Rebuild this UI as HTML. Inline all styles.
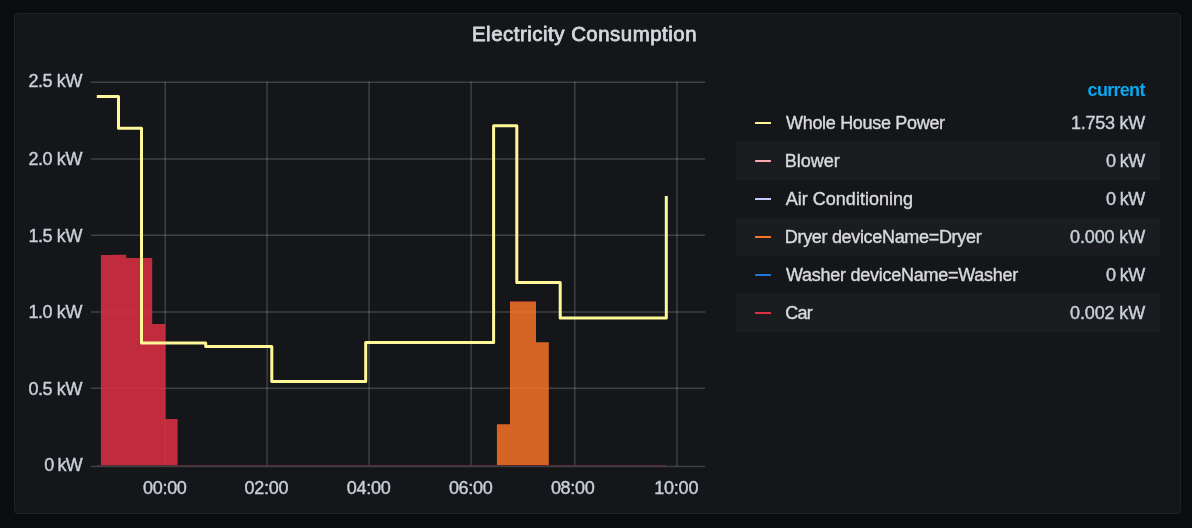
<!DOCTYPE html>
<html>
<head>
<meta charset="utf-8">
<title>Electricity Consumption</title>
<style>
html,body{margin:0;padding:0;}
body{width:1192px;height:528px;background:#0b0c0e;overflow:hidden;position:relative;font-family:"Liberation Sans",sans-serif;color:#c7d0d9;}
.panel{position:absolute;left:14px;top:13px;width:1165px;height:499px;background:#141619;border:1px solid #202226;border-radius:4px;}
.title{position:absolute;left:0.5px;top:22px;width:1168px;text-align:center;font-size:20.4px;font-weight:normal;-webkit-text-stroke:0.8px #d3d7dc;letter-spacing:0.52px;color:#d3d7dc;line-height:24px;white-space:nowrap;}
.t{position:absolute;white-space:nowrap;font-size:18px;line-height:20px;-webkit-text-stroke:0.4px currentColor;}
.yl{right:1110px;text-align:right;letter-spacing:-0.4px;}
.xl{width:80px;text-align:center;top:477.6px;}
.row{position:absolute;left:736px;width:424px;height:38px;}
.row.odd{background:#1a1c20;}
.row i{position:absolute;left:19px;top:17.6px;width:16.4px;height:2.9px;border-radius:0.5px;}
.row span{position:absolute;top:8.6px;font-size:18px;line-height:20px;white-space:nowrap;color:#d8d9da;-webkit-text-stroke:0.4px currentColor;}
.row .n{left:50px;}
.row .v{right:15px;color:#c9d1da;}
.cur{position:absolute;right:47.3px;top:80.2px;font-size:18px;line-height:20px;font-weight:bold;letter-spacing:-0.7px;color:#0ca7ee;}
svg{position:absolute;left:0;top:0;}
</style>
</head>
<body>
<div class="panel"></div>
<div class="title">Electricity Consumption</div>
<svg width="1192" height="528" viewBox="0 0 1192 528">
  <g stroke="rgba(212,212,216,0.225)" stroke-width="1.5" fill="none">
    <path d="M91 82.2H705.2M91 158.9H705.2M91 235.2H705.2M91 311.9H705.2M91 388.2H705.2M91 466.5H705.2"/>
    <path d="M165.2 81.3V466.2M267.1 81.3V466.2M369.1 81.3V466.2M471.1 81.3V466.2M574.8 81.3V466.2M676.9 81.3V466.2"/>
  </g>
  <path d="M100.9 465.5V255H113.2V254.7H126.2V258H152.2V324H165.2V419H177.6V465.5Z" fill="#e02f44" fill-opacity="0.843"/>
  <path d="M496.9 465.5V424.2H510V301.5H536V342.3H548.8V465.5Z" fill="#fb7426" fill-opacity="0.84"/>
  <path d="M510 301.5H536" stroke="#a3283a" stroke-width="0.7" fill="none"/>
  <path d="M96.8 465.5H666.5" stroke="#572930" stroke-width="1" fill="none"/>
  <path d="M96.8 96.5H118.5V128.2H141.5V343H205.7V346.6H271.8V381.6H365.7V342.6H493.6V125.8H516.8V282.5H560.2V318H666.3V196" stroke="#fff899" stroke-width="3" fill="none" stroke-linejoin="round"/>
</svg>
<div class="t yl" style="top:71px">2.5 kW</div>
<div class="t yl" style="top:149px">2.0 kW</div>
<div class="t yl" style="top:226px">1.5 kW</div>
<div class="t yl" style="top:302px">1.0 kW</div>
<div class="t yl" style="top:379px">0.5 kW</div>
<div class="t yl" style="top:455px;letter-spacing:-0.8px">0 kW</div>
<div class="t xl" style="left:124.8px;letter-spacing:-0.3px">00:00</div>
<div class="t xl" style="left:226.4px;letter-spacing:-0.3px">02:00</div>
<div class="t xl" style="left:328.6px;letter-spacing:-0.3px">04:00</div>
<div class="t xl" style="left:430.7px;letter-spacing:-0.3px">06:00</div>
<div class="t xl" style="left:532.7px;letter-spacing:-0.3px">08:00</div>
<div class="t xl" style="left:636.2px;letter-spacing:-0.2px">10:00</div>
<div class="cur">current</div>
<div class="row" style="top:104px"><i style="background:#fff899"></i><span class="n" style="left:50px;letter-spacing:-0.31px">Whole House Power</span><span class="v" style="right:15px;letter-spacing:-0.26px">1.753 kW</span></div>
<div class="row odd" style="top:142px"><i style="background:#ffa6b0"></i><span class="n" style="left:48.8px;letter-spacing:0.0px">Blower</span><span class="v" style="right:15.3px;letter-spacing:-0.55px">0 kW</span></div>
<div class="row" style="top:180px"><i style="background:#c4cefa"></i><span class="n" style="left:49.7px;letter-spacing:0.02px">Air Conditioning</span><span class="v" style="right:15.3px;letter-spacing:-0.55px">0 kW</span></div>
<div class="row odd" style="top:218px"><i style="background:#fc7526"></i><span class="n" style="left:48.8px;letter-spacing:-0.32px">Dryer deviceName=Dryer</span><span class="v" style="right:15px;letter-spacing:-0.13px">0.000 kW</span></div>
<div class="row" style="top:256px"><i style="background:#1c78d4"></i><span class="n" style="left:50px;letter-spacing:-0.26px">Washer deviceName=Washer</span><span class="v" style="right:15.3px;letter-spacing:-0.55px">0 kW</span></div>
<div class="row odd" style="top:294px"><i style="background:#e02f44"></i><span class="n" style="left:49.2px;letter-spacing:-0.75px">Car</span><span class="v" style="right:15px;letter-spacing:-0.13px">0.002 kW</span></div>
</body>
</html>
